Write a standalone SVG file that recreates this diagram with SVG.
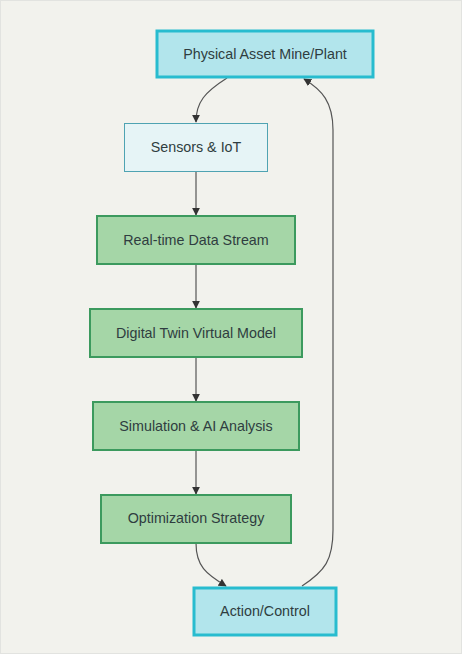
<svg xmlns="http://www.w3.org/2000/svg" width="462" height="654" viewBox="0 0 462 654">
<style>
  .lbl{font-family:"Liberation Sans",Arial,sans-serif;font-size:14.3px;fill:#2f3d40;text-anchor:middle;dominant-baseline:central}
  .cyan rect{fill:#b2e5ec;stroke:#28bccf;stroke-width:3}
  .light rect{fill:#e6f4f6;stroke:#4fa3b2;stroke-width:1}
  .green rect{fill:#a5d6a7;stroke:#3c9a5e;stroke-width:2}
  .edge{fill:none;stroke:#555;stroke-width:1.2}
</style>
<defs>
  <marker id="arr" viewBox="0 0 10 10" refX="9" refY="5" markerWidth="8" markerHeight="8" markerUnits="userSpaceOnUse" orient="auto">
    <path d="M0,0 L10,5 L0,10 z" fill="#333"/>
  </marker>
</defs>
<rect x="0.5" y="0.5" width="461" height="653" fill="#f2f2ed" stroke="#e2e3e0" stroke-width="1"/>
<g id="edges">
  <path class="edge" d="M227,78 C205,92 196,102 196,122" marker-end="url(#arr)"/>
  <path class="edge" d="M196,172 L196,215" marker-end="url(#arr)"/>
  <path class="edge" d="M196,264 L196,308" marker-end="url(#arr)"/>
  <path class="edge" d="M196,357 L196,401" marker-end="url(#arr)"/>
  <path class="edge" d="M196,450 L196,494" marker-end="url(#arr)"/>
  <path class="edge" d="M196,543 C196,566 206,574 226,586" marker-end="url(#arr)"/>
  <path class="edge" d="M302,586 C325,571 333,560 333,530 L333,130 C333,102 322,90 304,79" marker-end="url(#arr)"/>
</g>
<g id="physical" class="cyan"><rect x="157" y="31" width="216" height="46"/><text class="lbl" x="265" y="54">Physical Asset Mine/Plant</text></g>
<g id="sensors" class="light"><rect x="124.5" y="123.5" width="143" height="48"/><text class="lbl" x="196" y="147">Sensors &amp; IoT</text></g>
<g id="realtime" class="green"><rect x="97" y="216" width="198" height="48"/><text class="lbl" x="196" y="240">Real-time Data Stream</text></g>
<g id="digital" class="green"><rect x="90" y="309" width="212" height="48"/><text class="lbl" x="196" y="333">Digital Twin Virtual Model</text></g>
<g id="simulation" class="green"><rect x="93" y="402" width="206" height="48"/><text class="lbl" x="196" y="426">Simulation &amp; AI Analysis</text></g>
<g id="optimization" class="green"><rect x="101" y="495" width="190" height="48"/><text class="lbl" x="196" y="518">Optimization Strategy</text></g>
<g id="action" class="cyan"><rect x="194" y="588" width="142" height="47"/><text class="lbl" x="265" y="611">Action/Control</text></g>
</svg>
